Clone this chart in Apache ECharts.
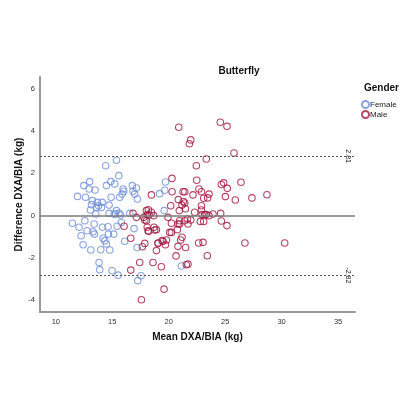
<!DOCTYPE html>
<html><head><meta charset="utf-8">
<script src="https://cdn.jsdelivr.net/npm/echarts@6/dist/echarts.min.js"></script>
<style>html,body{margin:0;padding:0;background:#fff}#c{width:400px;height:400px}</style>
</head><body><div id="c"></div>
<script>
const female = [
[11.47,-0.36],[11.92,0.91],[12.06,-0.55],[12.24,-0.95],[12.42,-1.37],[12.48,1.42],[12.57,-0.24],[12.63,0.87],
[12.77,-0.71],[12.95,1.26],[13.0,1.61],[13.07,0.27],[13.1,-1.62],[13.16,0.52],[13.24,0.71],[13.3,-0.76],
[13.42,-0.87],[13.39,-0.39],[13.48,1.21],[13.54,0.08],[13.6,0.39],[13.69,0.63],[13.78,0.47],[13.83,-2.21],
[13.89,-2.55],[13.98,-1.61],[14.04,0.39],[14.1,0.63],[14.13,-0.55],[14.19,-1.07],[14.34,-1.18],[14.42,2.36],
[14.48,1.42],[14.48,-1.34],[14.63,-0.52],[14.66,-0.87],[14.72,0.5],[14.72,0.11],[14.78,-1.62],[14.87,1.61],
[14.9,0.87],[14.99,-2.6],[15.13,-0.87],[15.16,0.08],[15.22,1.5],[15.28,0.08],[15.37,2.62],[15.37,0.24],
[15.43,-0.5],[15.52,-2.81],[15.58,1.89],[15.6,0.11],[15.66,0.87],[15.72,0.03],[15.81,-0.32],[15.87,1.02],
[15.96,1.26],[16.02,1.15],[16.1,-1.21],[16.55,0.11],[16.78,1.42],[16.84,1.15],[16.93,-0.61],[16.99,1.02],
[17.14,1.31],[17.2,-1.5],[17.23,0.79],[17.26,-3.07],[17.55,-2.84],[19.71,1.59],[19.65,1.2],[19.2,1.04],
[19.6,0.24],[21.12,-2.38]
];
const male = [
[16.05,-0.5],[16.64,-1.07],[16.64,-2.57],[16.84,0.11],[17.14,-0.08],[17.43,-2.21],[17.58,-3.97],[17.67,-1.47],
[17.88,-1.31],[17.88,-0.2],[18.03,-0.24],[18.02,0.24],[18.17,-0.71],[18.26,0.03],[18.47,0.98],[18.47,0.16],
[18.61,-2.21],[18.7,-0.55],[18.76,-0.68],[18.91,-1.65],[19.06,-1.3],[19.35,-2.41],[19.5,-1.21],[19.41,-1.18],
[19.71,-1.37],[19.8,-1.15],[19.59,-3.47],[19.94,-0.08],[20.09,-0.79],[20.24,-0.79],[20.18,0.47],[20.24,-0.36],
[20.29,1.76],[20.3,1.13],[20.65,-1.9],[20.77,-0.66],[20.82,-1.45],[20.83,-0.39],[20.89,4.18],[20.85,0.76],
[20.97,-0.39],[20.97,-0.24],[21.06,-1.15],[21.18,-1.02],[20.94,0.24],[21.18,0.5],[21.27,1.13],[21.42,1.13],
[21.42,0.6],[21.3,0.67],[21.5,-1.5],[21.56,-2.32],[21.71,-2.29],[21.42,-0.24],[21.65,-0.16],[21.95,-0.2],
[21.71,-0.39],[21.48,0.33],[21.95,3.58],[21.83,3.4],[22.15,0.98],[22.3,0.16],[22.45,2.36],[22.48,1.67],
[22.65,-1.29],[22.68,1.26],[22.9,1.13],[22.9,0.47],[22.9,0.27],[22.8,-0.27],[23.1,-0.27],[22.95,0.05],
[23.04,-1.26],[23.1,0.82],[23.33,0.05],[23.33,2.68],[23.45,0.84],[23.57,1.02],[23.19,0.05],[23.57,0.0],
[23.92,0.08],[23.42,-1.89],[24.6,0.11],[24.66,-0.25],[24.57,4.41],[25.16,4.22],[25.78,2.96],[26.4,1.58],
[24.66,1.47],[24.87,1.55],[25.19,1.29],[25.02,0.9],[25.9,0.74],[27.37,0.84],[28.7,0.99],[25.16,-0.47],
[26.75,-1.29],[30.27,-1.29],[17.79,-0.08],[18.1,0.05],[18.67,0.0],[18.2,0.28],[18.1,-0.55],[18.23,-0.74],
[18.91,-0.66],[19.05,-1.29]
];
const xTicks = [10,15,20,25,30,35];
const yTicks = [-4,-2,0,2,4,6];
const upperLimit = 2.81, lowerLimit = -2.82, meanDiff = 0;
const xRange = [8.6,36.5], yRange = [-4.55,6.55];

const font = '"Liberation Sans", Arial, sans-serif';
const chart = echarts.init(document.getElementById('c'));
const refLine = (v, type, w) => ({yAxis: v, lineStyle:{color: w>1?'#7a7a7a':'#555', type: type, width: w}, label:{show:false}});
chart.setOption({
  animation:false,
  backgroundColor:'#fff',
  title:[
    {text:'Butterfly', left:234, top:61, textAlign:'center', textStyle:{fontFamily:font, fontSize:10, fontWeight:'bold', color:'#111'}},
    {text:'Gender', left:359, top:78, textStyle:{fontFamily:font, fontSize:10, fontWeight:'bold', color:'#111'}}
  ],
  legend:{
    orient:'vertical', left:356, top:95, itemGap:1, itemWidth:7, itemHeight:7,
    textStyle:{fontFamily:font, fontSize:8, color:'#222', padding:[0,0,0,-4]},
    data:[{name:'Female', icon:'circle'},{name:'Male', icon:'circle'}]
  },
  grid:{left:40, right:45, top:77, bottom:88},
  xAxis:{
    type:'value', min:xRange[0], max:xRange[1],
    name:'Mean DXA/BIA (kg)', nameLocation:'middle', nameGap:20, nameMoveOverlap:false,
    nameTextStyle:{fontFamily:font, fontSize:10, fontWeight:'bold', color:'#111'},
    axisLine:{show:true, onZero:false, lineStyle:{color:'#999', width:2}},
    axisTick:{show:false},
    splitLine:{show:false},
    axisLabel:{customValues:xTicks, fontFamily:font, fontSize:7.5, color:'#333', margin:6}
  },
  yAxis:{
    type:'value', min:yRange[0], max:yRange[1],
    name:'Difference DXA/BIA (kg)', nameLocation:'middle', nameGap:16, nameMoveOverlap:false,
    nameTextStyle:{fontFamily:font, fontSize:10, fontWeight:'bold', color:'#111'},
    axisLine:{show:true, onZero:false, lineStyle:{color:'#999', width:2}},
    axisTick:{show:false},
    splitLine:{show:false},
    axisLabel:{customValues:yTicks, fontFamily:font, fontSize:7.5, color:'#333', margin:5}
  },
  series:[
    {name:'Female', type:'scatter', data:female, symbol:'circle', symbolSize:6.5,
     itemStyle:{color:'rgba(0,0,0,0)', borderColor:'#6d8ddb', borderWidth:1.1},
     markLine:{silent:true, symbol:'none', data:[refLine(upperLimit,[2,2],1),refLine(lowerLimit,[2,2],1),refLine(meanDiff,'solid',1.5)]}
    },
    {name:'Male', type:'scatter', data:male, symbol:'circle', symbolSize:6.5,
     itemStyle:{color:'rgba(0,0,0,0)', borderColor:'#a1163f', borderWidth:1.1}}
  ]
});
const lbl = (v, txt) => {
  const p = chart.convertToPixel({gridIndex:0}, [35.85, v]);
  return {type:'text', x:p[0], y:p[1], rotation:-Math.PI/2,
    style:{text:txt, fontFamily:font, fontSize:7, fill:'#222', align:'center', verticalAlign:'middle', backgroundColor:'#fff', padding:[0,1]}};
};
chart.setOption({graphic:[lbl(upperLimit, upperLimit.toFixed(2)), lbl(lowerLimit, lowerLimit.toFixed(2))]});
</script></body></html>
